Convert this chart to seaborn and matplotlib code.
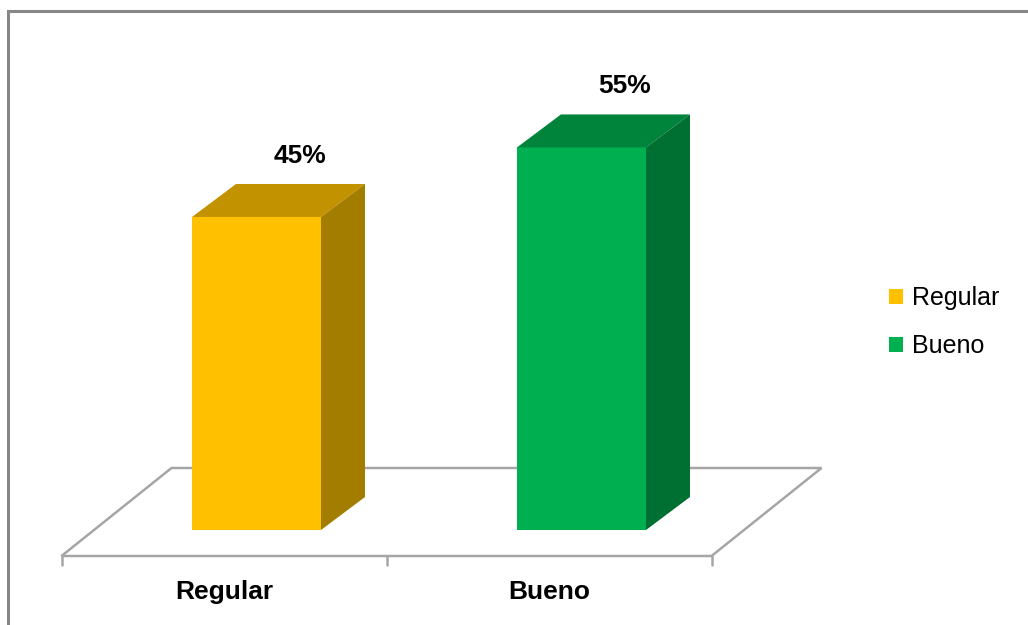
import matplotlib
matplotlib.use("Agg")
import matplotlib.pyplot as plt
from matplotlib.patches import Polygon, Patch, Rectangle
import seaborn as sns
import pandas as pd

# ---- data ----
categories = ["Regular", "Bueno"]
values = [45, 55]
value_labels = ["45%", "55%"]
front_colors = ["#FFC000", "#00B050"]
top_colors = ["#C39200", "#00843C"]
side_colors = ["#A37D00", "#006F32"]

sns.set_theme(style="white")
plt.rcParams["font.family"] = ["Liberation Sans", "DejaVu Sans"]

W, H = 1028, 625
fig = plt.figure(figsize=(W / 100, H / 100), dpi=100)
ax = fig.add_axes([0, 0, 1, 1])

# pixel scale: x unit = 325 px, index 0 at px 256.5 ; y: 0 at px 530 (from top), 6.956 px per %
PX_X = 325.0
PX_Y = 6.956
x0_px = 256.5
y0_px = 530.0

# floor geometry (data units)
floor_dx, floor_dy = 110 / PX_X, 88 / PX_Y
front_frac = 26 / 88.0
bar_dx, bar_dy = 44 / PX_X, 33 / PX_Y

fx0 = -0.5 - front_frac * floor_dx
fx1 = len(categories) - 0.5 - front_frac * floor_dx
fy = -front_frac * floor_dy
floor = Polygon([(fx0, fy), (fx1, fy), (fx1 + floor_dx, fy + floor_dy),
                 (fx0 + floor_dx, fy + floor_dy)], closed=True,
                facecolor="white", edgecolor="#A6A6A6", linewidth=1.8, zorder=1)
ax.add_patch(floor)

# tick marks along front edge
tick_len = 9 / PX_Y
for i in range(len(categories) + 1):
    tx = fx0 + i
    ax.plot([tx, tx], [fy, fy - tick_len], color="#A6A6A6", linewidth=1.8, zorder=1)

df = pd.DataFrame({"cat": categories, "val": values})
sns.barplot(data=df, x="cat", y="val", hue="cat", palette=front_colors,
            width=129 / PX_X, legend=False, ax=ax, zorder=3,
            edgecolor="none", saturation=1)

ax.set_xlim(-x0_px / PX_X, (W - x0_px) / PX_X)
ax.set_ylim(-(H - y0_px) / PX_Y, y0_px / PX_Y)

# 3D faces built from the drawn bars
bars = [p for p in ax.patches if isinstance(p, Rectangle) and p.get_height() > 0]
for i, b in enumerate(bars):
    x = b.get_x()
    w = b.get_width()
    h = b.get_height()
    top = Polygon([(x, h), (x + bar_dx, h + bar_dy), (x + w + bar_dx, h + bar_dy), (x + w, h)],
                  closed=True, facecolor=top_colors[i], edgecolor="none", zorder=3)
    side = Polygon([(x + w, 0), (x + w, h), (x + w + bar_dx, h + bar_dy), (x + w + bar_dx, bar_dy)],
                   closed=True, facecolor=side_colors[i], edgecolor="none", zorder=3)
    ax.add_patch(top)
    ax.add_patch(side)
    ax.text(x + w / 2 + 43 / PX_X, h + bar_dy + 28 / PX_Y, value_labels[i],
            ha="center", va="center", fontsize=19, fontweight="bold", color="black")

# category labels
for i, c in enumerate(categories):
    ax.text(fx0 + i + 0.5, fy - 36 / PX_Y, c, ha="center", va="center",
            fontsize=19, fontweight="bold", color="black")

ax.set_axis_off()

# legend
handles = [Patch(facecolor=front_colors[i], edgecolor="none", label=categories[i])
           for i in range(len(categories))]
leg = fig.legend(handles=handles, loc="center left", bbox_to_anchor=(889 / W, 1 - 322 / H),
                 frameon=False, fontsize=18, handlelength=0.55, handleheight=0.55,
                 handletextpad=0.35, labelspacing=0.95, borderpad=0, borderaxespad=0)
for t in leg.get_texts():
    t.set_color("black")

# outer border (clipped at right/bottom)
fig.patches.append(Rectangle((8 / W, -0.1), 1.2, (H - 11) / H + 0.1, transform=fig.transFigure,
                             fill=False, edgecolor="#878787", linewidth=2.2, zorder=0))

fig.savefig("out.png", dpi=100)
